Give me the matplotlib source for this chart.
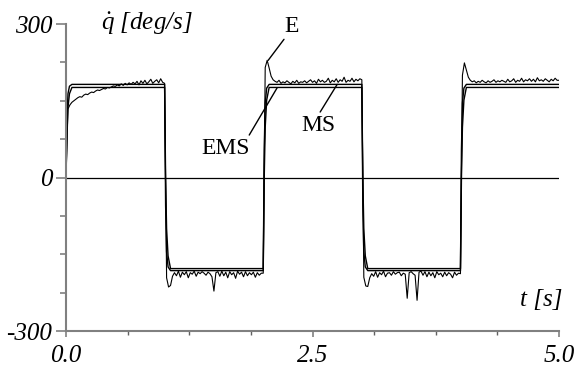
import matplotlib
matplotlib.use('Agg')
import matplotlib.pyplot as plt
from matplotlib.ticker import MultipleLocator, FixedFormatter, FixedLocator
import numpy as np

plt.rcParams['font.family'] = 'Liberation Serif'
plt.rcParams['mathtext.fontset'] = 'custom'
plt.rcParams['mathtext.it'] = 'Liberation Serif:italic'
plt.rcParams['mathtext.rm'] = 'Liberation Serif'

# measured signal E, sampled every 0.02 s, one list per half period
e_seg1 = [0, 134, 142, 147, 150, 153, 156, 158, 157, 161, 163, 162, 165, 167, 166, 169, 171, 170, 172, 174,
          173, 176, 175, 177, 179, 178, 181, 179, 183, 180, 184, 181, 185, 182, 186, 183, 188, 181, 189, 184,
          190, 183, 187, 192, 184, 188, 191, 185, 193, 186]
e_seg2 = [184, -196, -214, -211, -193, -186, -192, -183, -195, -185, -190, -184, -196, -186, -189, -183, -193, -185, -188, -184,
          -187, -191, -185, -188, -194, -222, -186, -184, -193, -183, -192, -185, -196, -184, -190, -186, -197, -183, -189, -185,
          -194, -184, -192, -186, -190, -185, -195, -186, -191, -187]
e_seg3 = [-187, 215, 229, 214, 198, 191, 188, 186, 190, 184, 187, 185, 189, 186, 183, 188, 185, 190, 184, 187,
          186, 189, 185, 188, 191, 186, 189, 184, 192, 187, 190, 186, 188, 194, 185, 190, 187, 193, 186, 191,
          188, 196, 186, 190, 188, 194, 187, 192, 189, 193]
e_seg4 = [191, -195, -212, -213, -196, -188, -193, -184, -195, -186, -190, -183, -194, -187, -186, -191, -184, -189, -186, -185,
          -192, -187, -189, -236, -186, -184, -188, -191, -240, -185, -183, -191, -184, -194, -185, -192, -186, -196, -184, -190,
          -187, -194, -185, -192, -186, -189, -196, -185, -191, -187]
e_seg5 = [-188, 200, 224, 210, 196, 190, 187, 189, 185, 188, 186, 190, 187, 185, 189, 186, 188, 191, 186, 189,
          187, 190, 188, 186, 192, 187, 189, 193, 186, 190, 188, 194, 187, 191, 189, 193, 188, 192, 187, 195,
          189, 191, 188, 193, 190, 187, 192, 189, 194, 190]
e_last = 190

# simulated responses: switching times, settled levels, shape of the edge
switch_t = [0.0, 1.0, 2.0, 3.0, 4.0]
ms_level = [182, -182, 182, -182, 182]
ems_level = [176, -178, 176, -178, 176]
edge_dt = [0.0, 0.01, 0.02, 0.035, 0.06]
ms_frac = [0.0, 0.65, 0.9, 0.98, 1.0]
ems_frac = [0.0, 0.5, 0.78, 0.93, 1.0]
t_end = 5.0

e_vals = e_seg1 + e_seg2 + e_seg3 + e_seg4 + e_seg5 + [e_last]
e_t = np.arange(len(e_vals)) * 0.02


def sim_curve(levels, frac):
    ts, ys = [], []
    prev = 0
    for T, L in zip(switch_t, levels):
        for dt, f in zip(edge_dt, frac):
            ts.append(T + dt)
            ys.append(prev + f * (L - prev))
        prev = L
    ts.append(t_end)
    ys.append(prev)
    return ts, ys


ms_t, ms_y = sim_curve(ms_level, ms_frac)
ems_t, ems_y = sim_curve(ems_level, ems_frac)

fig = plt.figure(figsize=(5.76, 3.71), dpi=100)
ax = fig.add_axes([0.1146, 0.1078, 0.856, 0.8275])

ax.axhline(0, color='black', lw=0.9)
ax.plot(ms_t, ms_y, color='black', lw=1.0)
ax.plot(ems_t, ems_y, color='black', lw=1.0)
ax.plot(e_t, e_vals, color='black', lw=0.8)

ax.set_xlim(0, 5)
ax.set_ylim(-300, 300)
for s in ['top', 'right']:
    ax.spines[s].set_visible(False)
for s in ['left', 'bottom']:
    ax.spines[s].set_color('#808080')
    ax.spines[s].set_linewidth(1.5)

ax.xaxis.set_major_locator(FixedLocator([0, 2.5, 5.0]))
ax.xaxis.set_major_formatter(FixedFormatter(['0.0', '2.5', '5.0']))
ax.xaxis.set_minor_locator(MultipleLocator(0.625))
ax.yaxis.set_major_locator(FixedLocator([-300, 0, 300]))
ax.yaxis.set_major_formatter(FixedFormatter(['-300', '0', '300']))
ax.yaxis.set_minor_locator(MultipleLocator(75))

ax.tick_params(axis='x', which='major', length=4, width=1.2, color='#808080', pad=6, labelsize=18)
ax.tick_params(axis='x', which='minor', length=3, width=1.0, color='#606060')
ax.tick_params(axis='y', which='major', length=7, width=1.2, color='#808080', pad=3, labelsize=18)
ax.tick_params(axis='y', which='minor', length=4, width=1.2, color='#808080')
for lab in ax.get_xticklabels() + ax.get_yticklabels():
    lab.set_fontstyle('italic')

ax.text(0.07, 1.0, r'$\dot{q}$ [deg/s]', transform=ax.transAxes, fontsize=18,
        fontstyle='italic', va='center', ha='left')
ax.text(1.006, 0.1, 't [s]', transform=ax.transAxes, fontsize=18,
        fontstyle='italic', va='center', ha='right')

arrow = dict(arrowstyle='-', color='black', lw=1.0, shrinkA=0, shrinkB=0)
ax.annotate('E', xy=(2.05, 229), xytext=(2.29, 296), fontsize=17, ha='center', va='center',
            arrowprops=dict(arrow, relpos=(0.1, 0.0)))
ax.annotate('EMS', xy=(2.14, 175), xytext=(1.62, 57), fontsize=17, ha='center', va='center',
            arrowprops=dict(arrow, relpos=(0.95, 1.0)))
ax.annotate('MS', xy=(2.75, 182), xytext=(2.56, 102), fontsize=17, ha='center', va='center',
            arrowprops=dict(arrow, relpos=(0.5, 1.0)))

plt.savefig('out.png', dpi=100)
